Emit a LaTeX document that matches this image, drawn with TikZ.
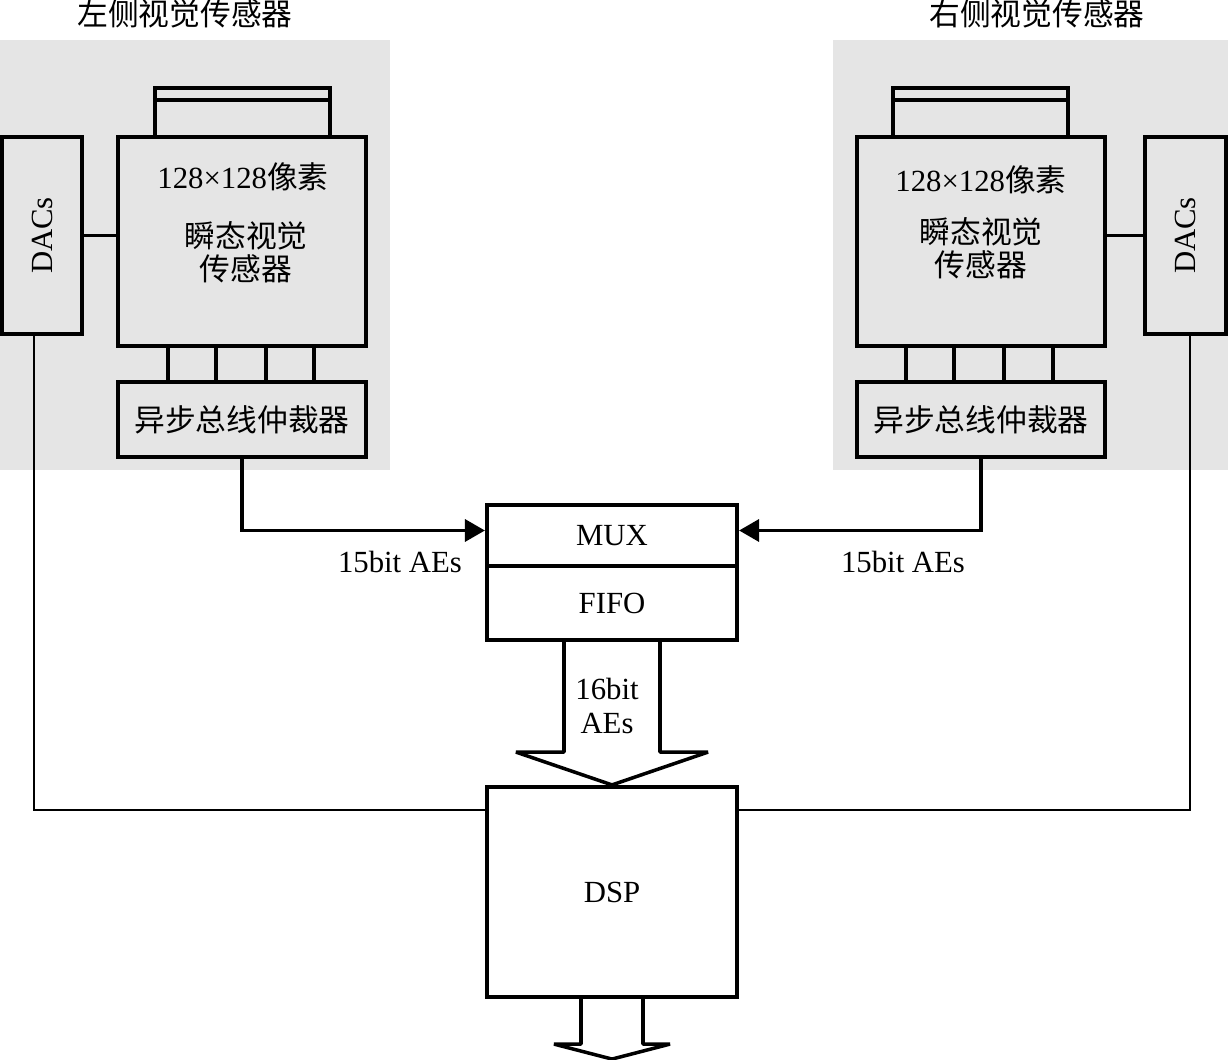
\documentclass[tikz,border=0pt]{standalone}
\usepackage{fontspec}
\setmainfont{Liberation Serif}
\newfontfamily\cjk{Noto Sans CJK SC}
\usepackage{tikz}
\usetikzlibrary{arrows.meta, calc}

\tikzset{
  blk/.style={draw, line width=2.4pt, inner sep=0pt},
  bus/.style={line width=2pt},
  wire/.style={line width=1.5pt},
  lbl/.style={inner sep=0pt, align=center},
}

\begin{document}
\begin{tikzpicture}[x=0.02cm, y=-0.02cm, >={Triangle[length=0.4cm, width=0.44cm]},
  every node/.style={font=\fontsize{17.5}{19}\selectfont}]
  \useasboundingbox (0,0) rectangle (1228,1060);

  % grey sensor areas
  \fill[gray!20] (0,40) rectangle (390,470);
  \fill[gray!20] (833,40) rectangle (1228,470);

  % left sensor
  \node[lbl] (ltitle) at (185,14) {\cjk 左侧视觉传感器};
  \node[blk, minimum width=4.96cm, minimum height=4.18cm] (lsens) at (242,241.5) {};
  \node[blk, minimum width=3.5cm, minimum height=0.98cm] (lcon) at (242.5,112.5) {};
  \draw[blk] ([yshift=-0.28cm]lcon.north west) -- ([yshift=-0.28cm]lcon.north east);
  \node[lbl] (lpix) at (243,177) {128×128\cjk 像素};
  \node[lbl] (lname) at (246,252) {\cjk 瞬态视觉\\\cjk 传感器};
  \node[blk, minimum width=1.6cm, minimum height=3.94cm] (ldac) at (42,235.5) {};
  \node[lbl, rotate=90] (ldactxt) at (ldac) {DACs};
  \node[blk, minimum width=4.96cm, minimum height=1.5cm] (larb) at (242,419.5) {\cjk 异步总线仲裁器};
  \draw[wire] (ldac.east) -- (ldac.east -| lsens.west);
  \foreach \dx in {52,100,150,198}
    \draw[bus] ($(lsens.south west)+(\dx,0)$) -- ($(lsens.south west)+(\dx,36)$);

  % right sensor
  \node[lbl] (rtitle) at (1037,14) {\cjk 右侧视觉传感器};
  \node[blk, minimum width=4.96cm, minimum height=4.18cm] (rsens) at (981,241.5) {};
  \node[blk, minimum width=3.5cm, minimum height=0.98cm] (rcon) at (980.5,112.5) {};
  \draw[blk] ([yshift=-0.28cm]rcon.north west) -- ([yshift=-0.28cm]rcon.north east);
  \node[lbl] (rpix) at (981,180) {128×128\cjk 像素};
  \node[lbl] (rname) at (981,248) {\cjk 瞬态视觉\\\cjk 传感器};
  \node[blk, minimum width=1.62cm, minimum height=3.94cm] (rdac) at (1185.5,235.5) {};
  \node[lbl, rotate=90] (rdactxt) at (rdac) {DACs};
  \node[blk, minimum width=4.96cm, minimum height=1.5cm] (rarb) at (981,419.5) {\cjk 异步总线仲裁器};
  \draw[wire] (rdac.west) -- (rdac.west -| rsens.east);
  \foreach \dx in {51,99,149,198}
    \draw[bus] ($(rsens.south west)+(\dx,0)$) -- ($(rsens.south west)+(\dx,36)$);

  % mux / fifo / dsp
  \node[blk, minimum width=5cm, minimum height=1.22cm] (mux) at (612,535.5) {MUX};
  \node[blk, minimum width=5cm, minimum height=1.48cm] (fifo) at (612,603) {FIFO};
  \node[blk, minimum width=5cm, minimum height=4.2cm] (dsp) at (612,892) {DSP};

  % event buses
  \draw[bus, ->] (larb.south) |- ([yshift=0.1cm]mux.west);
  \draw[bus, ->] (rarb.south) |- ([yshift=0.1cm]mux.east);
  \node[lbl] (laes) at (400,562) {15bit AEs};
  \node[lbl] (raes) at (903,562) {15bit AEs};

  % DAC control lines
  \draw[wire] ([xshift=-0.16cm]ldac.south) |- ([yshift=-0.5cm]dsp.north west);
  \draw[wire] ([xshift=0.09cm]rdac.south) |- ([yshift=-0.5cm]dsp.north east);

  % wide arrows
  \draw[bus, line join=bevel] ($(fifo.south)+(-48,0)$) -- ($(fifo.south)+(-48,110)$)
    -- ($(fifo.south)+(-96,110)$) -- (dsp.north) -- ($(fifo.south)+(96,110)$)
    -- ($(fifo.south)+(48,110)$) -- ($(fifo.south)+(48,0)$);
  \node[lbl] (faes) at (607,706) {16bit\\AEs};
  \draw[bus, line join=bevel] ($(dsp.south)+(-31,0)$) -- ($(dsp.south)+(-31,45)$)
    -- ($(dsp.south)+(-58,45)$) -- ($(dsp.south)+(0,60)$) -- ($(dsp.south)+(58,45)$)
    -- ($(dsp.south)+(31,45)$) -- ($(dsp.south)+(31,0)$);
\end{tikzpicture}
\end{document}
